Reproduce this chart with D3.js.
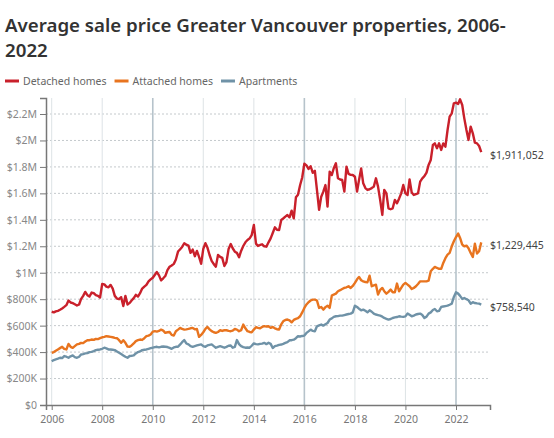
<!DOCTYPE html>
<html>
<head>
<meta charset="utf-8">
<script src="https://cdn.jsdelivr.net/npm/d3@7"></script>
<style>
  body { margin: 0; background: #fff; }
  svg { font-family: "Noto Sans", sans-serif; }
</style>
</head>
<body>
<svg id="chart" width="554" height="438"></svg>
<script>
// monthly average sale price, thousands of dollars, Jan 2006 .. Jan 2023
var detached = [
  705,700,708,712,720,730,742,755,790,775,770,762,
  752,760,800,825,855,830,820,850,845,830,825,812,
  915,912,895,890,908,880,825,805,800,815,748,825,
  760,772,790,808,833,820,845,880,895,908,935,950,
  962,985,1005,980,942,958,975,1020,1045,1055,1067,1100,
  1160,1178,1195,1223,1212,1205,1150,1175,1125,1165,1120,1068,
  1180,1223,1190,1134,1090,1065,1046,1134,1120,1112,1051,1080,
  1180,1217,1185,1159,1150,1117,1165,1202,1230,1247,1260,1285,
  1361,1220,1202,1210,1215,1200,1197,1230,1260,1300,1343,1325,
  1323,1399,1410,1424,1436,1419,1469,1411,1570,1590,1663,1720,
  1825,1812,1785,1805,1756,1770,1626,1475,1575,1613,1663,1500,
  1764,1739,1790,1827,1714,1705,1701,1613,1802,1747,1740,1739,
  1726,1613,1700,1789,1676,1640,1626,1631,1640,1651,1714,1651,
  1550,1437,1626,1600,1487,1480,1487,1550,1525,1560,1600,1663,
  1600,1588,1706,1606,1588,1595,1600,1689,1714,1730,1757,1815,
  1852,1966,1978,1941,1978,1928,1978,1953,2079,2180,2205,2281,
  2286,2276,2311,2268,2167,2079,2004,2104,2054,1983,1978,1958,
  1911.052
];
var attached = [
  395,400,410,420,430,440,425,420,462,440,432,445,
  458,462,470,468,480,490,490,495,492,500,498,505,
  512,515,520,518,515,512,508,505,490,470,490,470,
  442,440,450,465,483,490,495,492,505,520,525,533,
  555,558,555,560,570,562,545,550,552,530,525,558,
  570,583,575,570,572,575,580,583,572,575,515,530,
  550,575,590,572,558,550,545,552,565,560,565,565,
  560,558,562,575,570,558,565,608,580,558,552,550,
  570,588,583,580,590,596,593,595,583,590,580,573,
  570,610,633,643,646,640,625,643,651,656,671,700,
  734,760,777,790,797,797,790,734,741,721,740,751,
  734,827,835,842,860,868,877,885,890,898,885,900,
  923,950,968,943,935,930,928,978,898,905,910,835,
  870,885,860,842,855,873,852,852,918,860,885,910,
  923,910,898,877,885,898,915,935,935,935,935,940,
  1011,1030,1044,1036,1030,1029,1074,1110,1137,1150,1200,1238,
  1270,1296,1263,1213,1200,1205,1185,1150,1119,1220,1145,1162,
  1229.445
];
var apartments = [
  330,340,345,350,357,355,370,365,357,368,375,362,
  357,365,382,385,390,392,400,402,408,415,418,420,
  425,433,428,420,420,418,415,405,395,385,375,365,
  357,370,372,375,390,400,405,415,418,420,425,430,
  433,438,440,436,440,442,440,438,432,425,435,440,
  440,458,475,491,465,458,445,440,445,450,455,458,
  445,440,450,455,458,445,433,440,445,440,433,440,
  448,450,433,440,491,460,445,438,433,435,433,448,
  466,460,458,462,464,470,460,470,462,431,445,449,
  455,457,462,469,475,489,490,494,505,520,518,522,
  525,545,557,570,560,557,595,602,608,600,610,620,
  646,655,666,671,672,676,676,680,684,688,691,700,
  751,741,728,716,721,712,701,716,705,690,684,680,
  676,668,658,652,646,650,658,662,665,671,668,666,
  670,691,682,671,676,684,688,691,680,658,668,691,
  700,718,726,709,712,741,745,748,751,758,766,817,
  852,842,825,802,809,800,792,766,777,771,768,766,
  758.540
];
var seriesNames = ["Detached homes", "Attached homes", "Apartments"];
var seriesColors = ["#c9202b", "#e8741f", "#6f92a7"];
var yTicks = [0, 200, 400, 600, 800, 1000, 1200, 1400, 1600, 1800, 2000, 2200];
var xTickYears = [2006, 2008, 2010, 2012, 2014, 2016, 2018, 2020, 2022];
var markerYears = [2010, 2016, 2022];

var svg = d3.select("#chart");

// title
var title = svg.append("text")
  .attr("x", 5)
  .attr("fill", "#333")
  .style("font-size", "18.7px")
  .style("font-weight", 600);
title.append("tspan").attr("x", 5).attr("y", 32).text("Average sale price Greater Vancouver properties, 2006-");
title.append("tspan").attr("x", 5).attr("y", 57).text("2022");

// legend
var lx = 5;
seriesNames.forEach(function(name, i) {
  svg.append("line")
    .attr("x1", lx).attr("x2", lx + 14)
    .attr("y1", 81).attr("y2", 81)
    .attr("stroke", seriesColors[i])
    .attr("stroke-width", 3);
  var t = svg.append("text")
    .attr("x", lx + 18).attr("y", 85)
    .attr("fill", "#666")
    .style("font-size", "10.5px")
    .text(name);
  lx += 18 + t.node().getComputedTextLength() + 8;
});

// scales
var dates = detached.map(function(d, i) { return new Date(2006, i, 1); });
var base = d3.scaleTime().domain([new Date(2006, 0, 1), new Date(2022, 0, 1)]).range([51.7, 456]);
var x = d3.scaleTime().domain([base.invert(46), base.invert(490)]).range([46, 490]);
var y = d3.scaleLinear().domain([0, 2321]).range([405, 98]);

// horizontal dotted grid
svg.append("g").selectAll("line")
  .data(yTicks.filter(function(d) { return d > 0; }))
  .enter().append("line")
  .attr("x1", 46).attr("x2", 490)
  .attr("y1", function(d) { return y(d); })
  .attr("y2", function(d) { return y(d); })
  .attr("stroke", "#c4c9cc")
  .attr("stroke-dasharray", "2,2");

// vertical grid
svg.append("g").selectAll("line")
  .data(xTickYears)
  .enter().append("line")
  .attr("x1", function(d) { return x(new Date(d, 0, 1)); })
  .attr("x2", function(d) { return x(new Date(d, 0, 1)); })
  .attr("y1", 98).attr("y2", 405)
  .attr("stroke", function(d) { return markerYears.indexOf(d) >= 0 ? "#b6c3cb" : "#dde3e6"; })
  .attr("stroke-width", function(d) { return markerYears.indexOf(d) >= 0 ? 1.6 : 1; });

// axes
var fmtY = function(v) {
  if (v === 0) return "$0";
  if (v >= 1000) return "$" + (v / 1000) + "M";
  return "$" + v + "K";
};
var yAxis = svg.append("g")
  .attr("transform", "translate(46,0)")
  .call(d3.axisLeft(y).tickValues(yTicks).tickSize(6).tickPadding(3).tickFormat(fmtY));
yAxis.select(".domain").attr("stroke", "#777").attr("stroke-width", 1.5);
yAxis.selectAll(".tick line").attr("stroke", "#777");
yAxis.selectAll(".tick text").attr("fill", "#888").style("font-size", "10.5px").style("font-family", "Noto Sans");

var xAxis = svg.append("g")
  .attr("transform", "translate(0,405)")
  .call(d3.axisBottom(x).tickValues(xTickYears.map(function(d) { return new Date(d, 0, 1); }))
    .tickSize(5).tickPadding(6).tickFormat(d3.timeFormat("%Y")));
xAxis.select(".domain").attr("stroke", "#777").attr("stroke-width", 1.5);
xAxis.selectAll(".tick line").attr("stroke", "#777");
xAxis.selectAll(".tick text").attr("fill", "#777").style("font-size", "10.5px").style("font-family", "Noto Sans");

// lines
var line = d3.line()
  .x(function(d, i) { return x(dates[i]); })
  .y(function(d) { return y(d); });

var fmtEnd = d3.format("$,.0f");
[detached, attached, apartments].forEach(function(values, i) {
  svg.append("path")
    .datum(values)
    .attr("d", line)
    .attr("fill", "none")
    .attr("stroke", seriesColors[i])
    .attr("stroke-width", 2.4)
    .attr("stroke-linejoin", "round");

  var last = values[values.length - 1];
  svg.append("text")
    .attr("x", 490)
    .attr("y", y(last) + 3)
    .attr("dy", "0.35em")
    .attr("fill", "#444")
    .style("font-size", "10.5px")
    .text(fmtEnd(Math.round(last * 1000)));
});
</script>
</body>
</html>
